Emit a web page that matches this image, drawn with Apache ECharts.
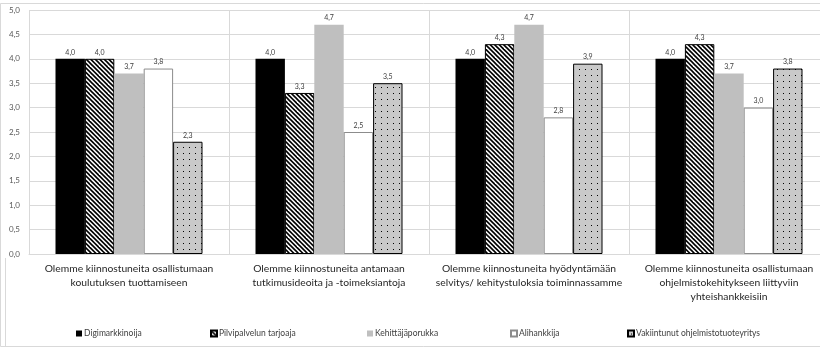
<!DOCTYPE html>
<html>
<head>
<meta charset="utf-8">
<script src="https://cdn.jsdelivr.net/npm/echarts@6/dist/echarts.min.js"></script>
<style>
  html, body { margin: 0; padding: 0; background: #fff; overflow: hidden; }
  #chart { width: 845px; height: 349px; }
</style>
</head>
<body>
<div id="chart"></div>
<script>
// Survey statements (x-axis categories)
const categories = [
  'Olemme kiinnostuneita osallistumaan\nkoulutuksen tuottamiseen',
  'Olemme kiinnostuneita antamaan\ntutkimusideoita ja -toimeksiantoja',
  'Olemme kiinnostuneita hyödyntämään\nselvitys/ kehitystuloksia toiminnassamme',
  'Olemme kiinnostuneita osallistumaan\nohjelmistokehitykseen liittyviin\nyhteishankkeisiin'
];

// Respondent groups
const seriesNames = [
  'Digimarkkinoija',
  'Pilvipalvelun tarjoaja',
  'Kehittäjäporukka',
  'Alihankkija',
  'Vakiintunut ohjelmistotuoteyritys'
];

// Average scores per group, one value per statement
const digimarkkinoija = [4.0, 4.0, 4.0, 4.0];
const pilvipalvelu    = [4.0, 3.3, 4.3, 4.3];
const kehittajaporukka = [3.7, 4.7, 4.7, 3.7];
const alihankkija     = [3.8, 2.5, 2.8, 3.0];
const vakiintunut     = [2.3, 3.5, 3.9, 3.8];

// Y axis scale
const yMin = 0, yMax = 5, yStep = 0.5;

const fmt = v => v.toFixed(1).replace('.', ',');

// Diagonal hatch tile (lines running top-left to bottom-right)
function hatchTile() {
  const s = 9;
  const c = document.createElement('canvas');
  c.width = s; c.height = s;
  const g = c.getContext('2d');
  g.fillStyle = '#ffffff';
  g.fillRect(0, 0, s, s);
  g.strokeStyle = '#000000';
  g.lineWidth = 1.6;
  for (let k = -s; k <= s; k += s / 2) {
    g.beginPath();
    g.moveTo(k - 1, -1);
    g.lineTo(k + s + 1, s + 1);
    g.stroke();
  }
  return c;
}

// Grey tile with a small black dot
function dotTile() {
  const c = document.createElement('canvas');
  c.width = 6; c.height = 6;
  const g = c.getContext('2d');
  g.fillStyle = '#c9c9c9';
  g.fillRect(0, 0, 6, 6);
  g.fillStyle = '#000000';
  g.fillRect(3, 3, 1, 1);
  return c;
}

const styles = [
  { color: '#000000', borderColor: '#000000', borderWidth: 0 },
  { color: { image: hatchTile(), repeat: 'repeat' }, borderColor: '#000000', borderWidth: 1 },
  { color: '#bfbfbf', borderColor: '#bfbfbf', borderWidth: 0 },
  { color: '#ffffff', borderColor: '#8c8c8c', borderWidth: 1 },
  { color: { image: dotTile(), repeat: 'repeat' }, borderColor: '#000000', borderWidth: 1 }
];

const values = [digimarkkinoija, pilvipalvelu, kehittajaporukka, alihankkija, vakiintunut];
const legendLeft = [76, 210, 367, 510, 627];

const font = 'Lato, "Open Sans", "Liberation Sans", sans-serif';

const chart = echarts.init(document.getElementById('chart'), null, { renderer: 'canvas' });

chart.setOption({
  animation: false,
  backgroundColor: '#ffffff',
  textStyle: { fontFamily: font },
  grid: { left: 29, top: 10, width: 800, height: 244, containLabel: false },
  legend: seriesNames.map((n, i) => ({
    data: [n],
    left: legendLeft[i],
    top: 329,
    itemWidth: 6,
    itemHeight: 6,
    padding: 0,
    icon: 'rect',
    selectedMode: false,
    textStyle: { fontSize: 8.5, color: '#404040', fontFamily: font, padding: [0, 0, 0, -3] }
  })),
  xAxis: {
    type: 'category',
    data: categories,
    axisTick: { show: false },
    axisLine: { show: true, lineStyle: { color: '#d9d9d9', width: 1 } },
    splitLine: { show: true, lineStyle: { color: '#d9d9d9', width: 1 } },
    axisLabel: {
      interval: 0,
      margin: 8,
      fontSize: 10.3,
      lineHeight: 14,
      color: '#262626',
      fontFamily: font
    }
  },
  yAxis: {
    type: 'value',
    min: yMin,
    max: yMax,
    interval: yStep,
    axisLine: { show: false },
    axisTick: { show: false },
    splitLine: { lineStyle: { color: '#d9d9d9', width: 1 } },
    axisLabel: {
      margin: 9,
      fontSize: 8,
      color: '#595959',
      fontFamily: font,
      formatter: v => fmt(v)
    }
  },
  series: seriesNames.map((n, i) => ({
    name: n,
    type: 'bar',
    data: values[i],
    barGap: '0%',
    barCategoryGap: '26.5%',
    itemStyle: styles[i],
    label: {
      show: true,
      position: 'top',
      distance: 3,
      fontSize: 7,
      color: '#404040',
      fontFamily: font,
      formatter: p => fmt(p.value)
    }
  })),
  graphic: [
    { type: 'rect', silent: true, shape: { x: 0.5, y: 3.5, width: 860, height: 343 },
      style: { fill: 'none', stroke: '#d9d9d9', lineWidth: 1 }, z: -1 },
    { type: 'line', silent: true, shape: { x1: 5.5, y1: 258, x2: 5.5, y2: 346 },
      style: { stroke: '#d9d9d9', lineWidth: 1 } }
  ]
});
</script>
</body>
</html>
